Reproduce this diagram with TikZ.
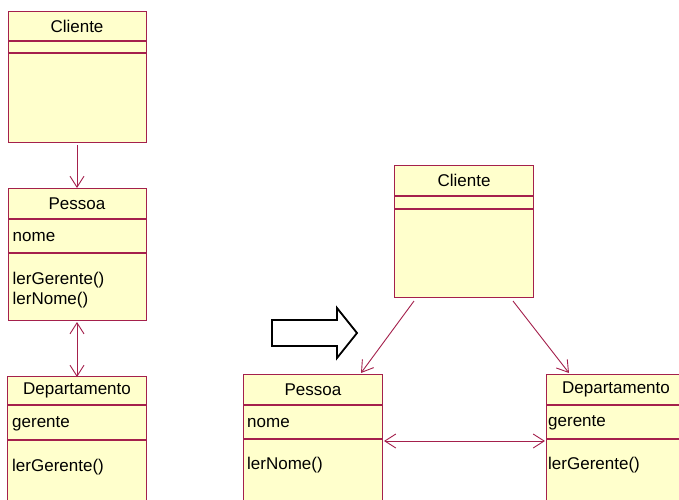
\documentclass[tikz,border=0pt]{standalone}
\usepackage{fontspec}
\setmainfont{Liberation Sans}
\usetikzlibrary{arrows.meta,calc}
\definecolor{umlline}{RGB}{164,32,76}
\definecolor{umlfill}{RGB}{255,255,204}
\tikzset{
  comp/.style={draw=umlline, fill=umlfill, line width=1pt, rectangle, inner sep=0pt,
    anchor=north west, font=\fontsize{17}{20}\selectfont},
  lbl/.style={anchor=west, inner sep=0pt, font=\fontsize{17}{20}\selectfont},
  barb/.tip={Straight Barb[length=11pt,width=14pt]},
  assoc/.style={draw=umlline, line width=0.9pt, -barb},
  biassoc/.style={draw=umlline, line width=0.9pt, barb-barb},
  bigarrow/.style={draw=black, fill=white, line width=1.8pt, line join=miter},
}
\begin{document}
\begin{tikzpicture}[x=1pt,y=1pt]
\useasboundingbox (0,0) rectangle (679,-499);
\clip (0,0) rectangle (679,-499);
\fill[white] (0,0) rectangle (679,-499);

% ---------- left column ----------
% Cliente
\node[comp, minimum width=138pt, minimum height=29pt] (cliAh) at (7.5,-11) {Cliente};
\node[comp, minimum width=138pt, minimum height=11pt] (cliAa) at (cliAh.south west) {};
\node[comp, minimum width=138pt, minimum height=89pt] (cliAo) at (cliAa.south west) {};

% Pessoa
\node[comp, minimum width=138pt, minimum height=30pt] (pesAh) at (7.5,-188) {Pessoa};
\node[comp, minimum width=138pt, minimum height=33pt] (pesAa) at (pesAh.south west) {};
\node[comp, minimum width=138pt, minimum height=67pt] (pesAo) at (pesAa.south west) {};
\node[lbl] (pesAat) at ($(pesAa.west)+(5,-1)$) {nome};
\node[lbl] (pesAop1) at ($(pesAo.north west)+(5,-27)$) {lerGerente()};
\node[lbl] (pesAop2) at ($(pesAo.north west)+(5,-47)$) {lerNome()};

% Departamento
\node[comp, minimum width=139pt, minimum height=28pt] (depAh) at (7,-376) {Departamento};
\node[comp, minimum width=139pt, minimum height=34pt] (depAa) at (depAh.south west) {};
\node[comp, minimum width=139pt, minimum height=90pt] (depAo) at (depAa.south west) {};
\node[lbl] (depAat) at ($(depAa.west)+(5,-1)$) {gerente};
\node[lbl] (depAop1) at ($(depAo.north west)+(5,-27)$) {lerGerente()};

\draw[assoc] ($(cliAo.south)+(0,-2)$) -- (pesAh.north);
\draw[biassoc] ($(pesAo.south)+(0,-1)$) -- ($(depAh.north)+(0,-1)$);

% ---------- block arrow ----------
\draw[bigarrow] (272,-320) -- (337,-320) -- (337,-308) -- (357,-333)
  -- (337,-358) -- (337,-346) -- (272,-346) -- cycle;

% ---------- right part ----------
% Cliente
\node[comp, minimum width=139pt, minimum height=30pt] (cliBh) at (394,-165) {Cliente};
\node[comp, minimum width=139pt, minimum height=12pt] (cliBa) at (cliBh.south west) {};
\node[comp, minimum width=139pt, minimum height=88pt] (cliBo) at (cliBa.south west) {};

% Pessoa
\node[comp, minimum width=139pt, minimum height=30pt] (pesBh) at (243,-374) {Pessoa};
\node[comp, minimum width=139pt, minimum height=33pt] (pesBa) at (pesBh.south west) {};
\node[comp, minimum width=139pt, minimum height=90pt] (pesBo) at (pesBa.south west) {};
\node[lbl] (pesBat) at ($(pesBa.west)+(4,-1)$) {nome};
\node[lbl] (pesBop1) at ($(pesBo.north west)+(4,-26)$) {lerNome()};

% Departamento
\node[comp, minimum width=139pt, minimum height=30pt] (depBh) at (546,-374) {Departamento};
\node[comp, minimum width=139pt, minimum height=33pt] (depBa) at (depBh.south west) {};
\node[comp, minimum width=139pt, minimum height=90pt] (depBo) at (depBa.south west) {};
\node[lbl] (depBat) at ($(depBa.west)+(2,-1)$) {gerente};
\node[lbl] (depBop1) at ($(depBo.north west)+(2,-26)$) {lerGerente()};

\draw[assoc] ($(cliBo.south west)+(20,-3)$) -- ($(pesBh.north west)+(118,1)$);
\draw[assoc] ($(cliBo.south west)+(119,-3)$) -- ($(depBh.north west)+(23,1)$);
\draw[biassoc] ($(pesBo.north east)+(1,-2)$) -- ($(depBo.north west)+(-1,-2)$);
\end{tikzpicture}
\end{document}
